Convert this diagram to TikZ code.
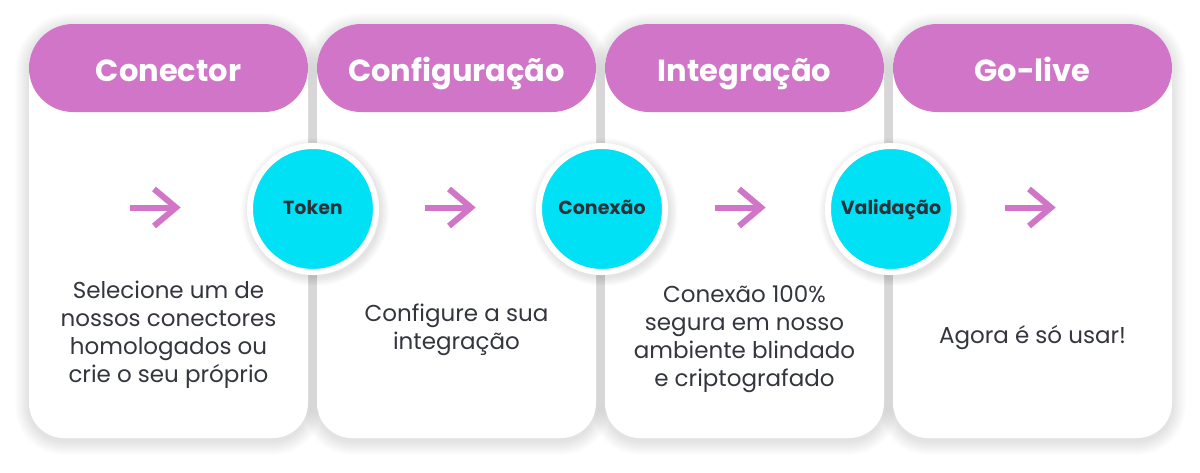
\documentclass[tikz,border=0pt]{standalone}
\usepackage{fontspec}
\setmainfont{Poppins}
\usetikzlibrary{calc}
\definecolor{pinkc}{HTML}{D175C8}
\definecolor{cyanc}{HTML}{00E1F5}
\definecolor{txt}{HTML}{33363D}
\definecolor{txtdark}{HTML}{2E3138}
% card outline: #1 left x, #2 expansion
\newcommand{\cardpath}[2]{({#1+44},{-24+#2}) -- ({#1+279-44},{-24+#2}) arc[start angle=90,end angle=0,radius={44+#2}] -- ({#1+279+#2},-403) arc[start angle=0,end angle=-90,radius={35+#2}] -- ({#1+35},{-438-#2}) arc[start angle=270,end angle=180,radius={35+#2}] -- ({#1-#2},-68) arc[start angle=180,end angle=90,radius={44+#2}] -- cycle}
\begin{document}
\begin{tikzpicture}[x=1pt,y=1pt,
  pill/.style={rectangle, rounded corners=44pt, fill=pinkc, minimum width=279pt, minimum height=88pt, inner sep=0pt, text=white, font=\bfseries\fontsize{30.5}{34}\selectfont, text height=29pt, text depth=2pt},
  badge/.style={circle, fill=cyanc, draw=white, line width=6pt, minimum size=126pt, inner sep=0pt, text=txtdark, font=\bfseries\fontsize{19}{21}\selectfont, text height=10pt, text depth=0pt},
  body/.style={align=center, text=txt, font=\fontsize{23}{28}\selectfont, inner sep=0pt},
  flow/.style={draw=pinkc, line width=6pt, line cap=butt, miter limit=10}
]
\useasboundingbox (0,0) rectangle (1200,-472);
\fill[white] (0,0) rectangle (1200,-472);
% card shadows
\foreach \L in {29,317,605,893}{
  \foreach \k in {1,...,14}{
    \fill[black, opacity=0.0075, shift={(0,-3)}] \cardpath{\L}{\k};
  }
}
% cards
\foreach \L in {29,317,605,893}{
  \fill[white] \cardpath{\L}{0};
}
% headers
\node[pill] (h1) at (168.5,-68) {Conector};
\node[pill] (h2) at (456.5,-68) {Configuração};
\node[pill] (h3) at (744.5,-68) {Integração};
\node[pill] (h4) at (1032.5,-68) {Go-live};
% arrows
\foreach \xs [count=\i] in {130,425,715,1005}{
  \coordinate (s\i) at (\xs,-207.5);
  \coordinate (e\i) at (\xs+46,-207.5);
  \draw[flow] (s\i) -- (e\i);
  \draw[flow] ($(e\i)+(-22,18.5)$) -- (e\i) -- ($(e\i)+(-22,-18.5)$);
}
% body texts
\node[body] (t1) at (168.5,-335) {Selecione um de\\nossos conectores\\homologados ou\\crie o seu próprio};
\node[body] (t2) at (456.5,-330) {Configure a sua\\integração};
\node[body] (t3) at (744.5,-339) {Conexão 100\%\\segura em nosso\\ambiente blindado\\e criptografado};
\node[body] (t4) at (1032.5,-338) {Agora é só usar!};
% badge shadows
\foreach \cx in {313,602,891}{
  \foreach \k in {1,...,9}{
    \fill[black, opacity=0.011] (\cx+2,-212) circle ({65+\k});
  }
}
\node[badge] (b1) at (313,-209) {Token};
\node[badge] (b2) at (602,-209) {Conexão};
\node[badge] (b3) at (891,-209) {Validação};
\end{tikzpicture}
\end{document}
